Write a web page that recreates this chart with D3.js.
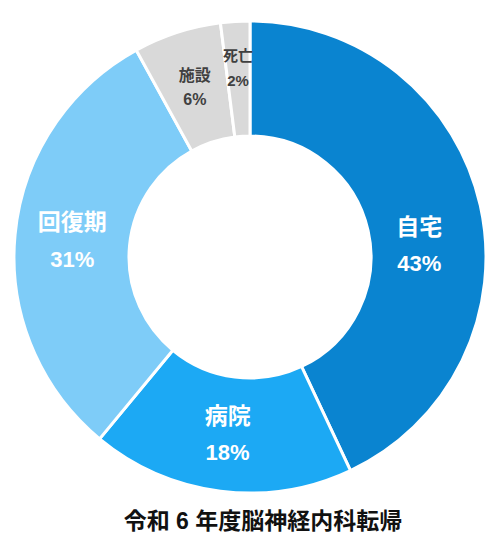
<!DOCTYPE html>
<html>
<head>
<meta charset="utf-8">
<script src="https://cdn.jsdelivr.net/npm/d3@7"></script>
<style>
  html, body { margin: 0; padding: 0; background: #fff; }
</style>
</head>
<body>
<div id="chart"></div>
<script>
// Categories and shares (%)
const categories = ["自宅", "病院", "回復期", "施設", "死亡"];
const values = [43, 18, 31, 6, 2];
const colors = ["#0A84D0", "#1CA9F4", "#7ECCF8", "#D9D9D9", "#D9D9D9"];
const title = "令和 6 年度脳神経内科転帰";

const W = 501, H = 552;
const cx = 250, cy = 257;
const outerR = 236, innerR = 121;

const data = categories.map((c, i) => ({ name: c, value: values[i], color: colors[i] }));

const svg = d3.select("#chart")
  .append("svg")
  .attr("width", W)
  .attr("height", H);

const pie = d3.pie()
  .value(d => d.value)
  .sort(null);

const arc = d3.arc()
  .innerRadius(innerR)
  .outerRadius(outerR);

const g = svg.append("g")
  .attr("transform", `translate(${cx},${cy})`);

const arcs = pie(data);

g.selectAll("path")
  .data(arcs)
  .enter()
  .append("path")
  .attr("d", arc)
  .attr("fill", d => d.data.color)
  .attr("stroke", "#fff")
  .attr("stroke-width", 3)
  .attr("stroke-linejoin", "miter");

// Labels: big ones white, small grey slices dark
const fontFamily = "'Liberation Sans', 'Noto Sans CJK JP', sans-serif";
// small nudge for the first label (Excel moved it down a bit)
const labelNudge = { "自宅": [-5, 27] };

const labels = g.selectAll("g.label")
  .data(arcs)
  .enter()
  .append("g")
  .attr("class", "label")
  .attr("transform", d => {
    const [x, y] = arc.centroid(d);
    const n = labelNudge[d.data.name] || [0, 0];
    // tiny slices sit a bit further out
    const k = d.data.value < 4 ? 1.06 : 1;
    return `translate(${x * k + n[0]},${y * k + n[1]})`;
  });

labels.each(function (d) {
  const small = d.data.value < 10;
  const fs = small ? (d.data.value < 4 ? 15 : 16) : 23;
  const gap = small ? 12.5 : 18.5;
  const fill = small ? "#404040" : "#fff";
  const sel = d3.select(this);
  sel.append("text")
    .attr("y", -gap)
    .attr("dy", "0.36em")
    .attr("text-anchor", "middle")
    .attr("font-family", fontFamily)
    .attr("font-weight", "bold")
    .attr("font-size", fs + "px")
    .attr("fill", fill)
    .text(d.data.name);
  sel.append("text")
    .attr("y", gap)
    .attr("dy", "0.36em")
    .attr("text-anchor", "middle")
    .attr("font-family", fontFamily)
    .attr("font-weight", "bold")
    .attr("font-size", (small ? fs : 22) + "px")
    .attr("fill", fill)
    .text(d.data.value + "%");
});

// Title below the donut
svg.append("text")
  .attr("x", 263)
  .attr("y", 521)
  .attr("dy", "0.36em")
  .attr("text-anchor", "middle")
  .attr("font-family", fontFamily)
  .attr("font-weight", "bold")
  .attr("font-size", "23px")
  .attr("fill", "#111")
  .text(title);
</script>
</body>
</html>
